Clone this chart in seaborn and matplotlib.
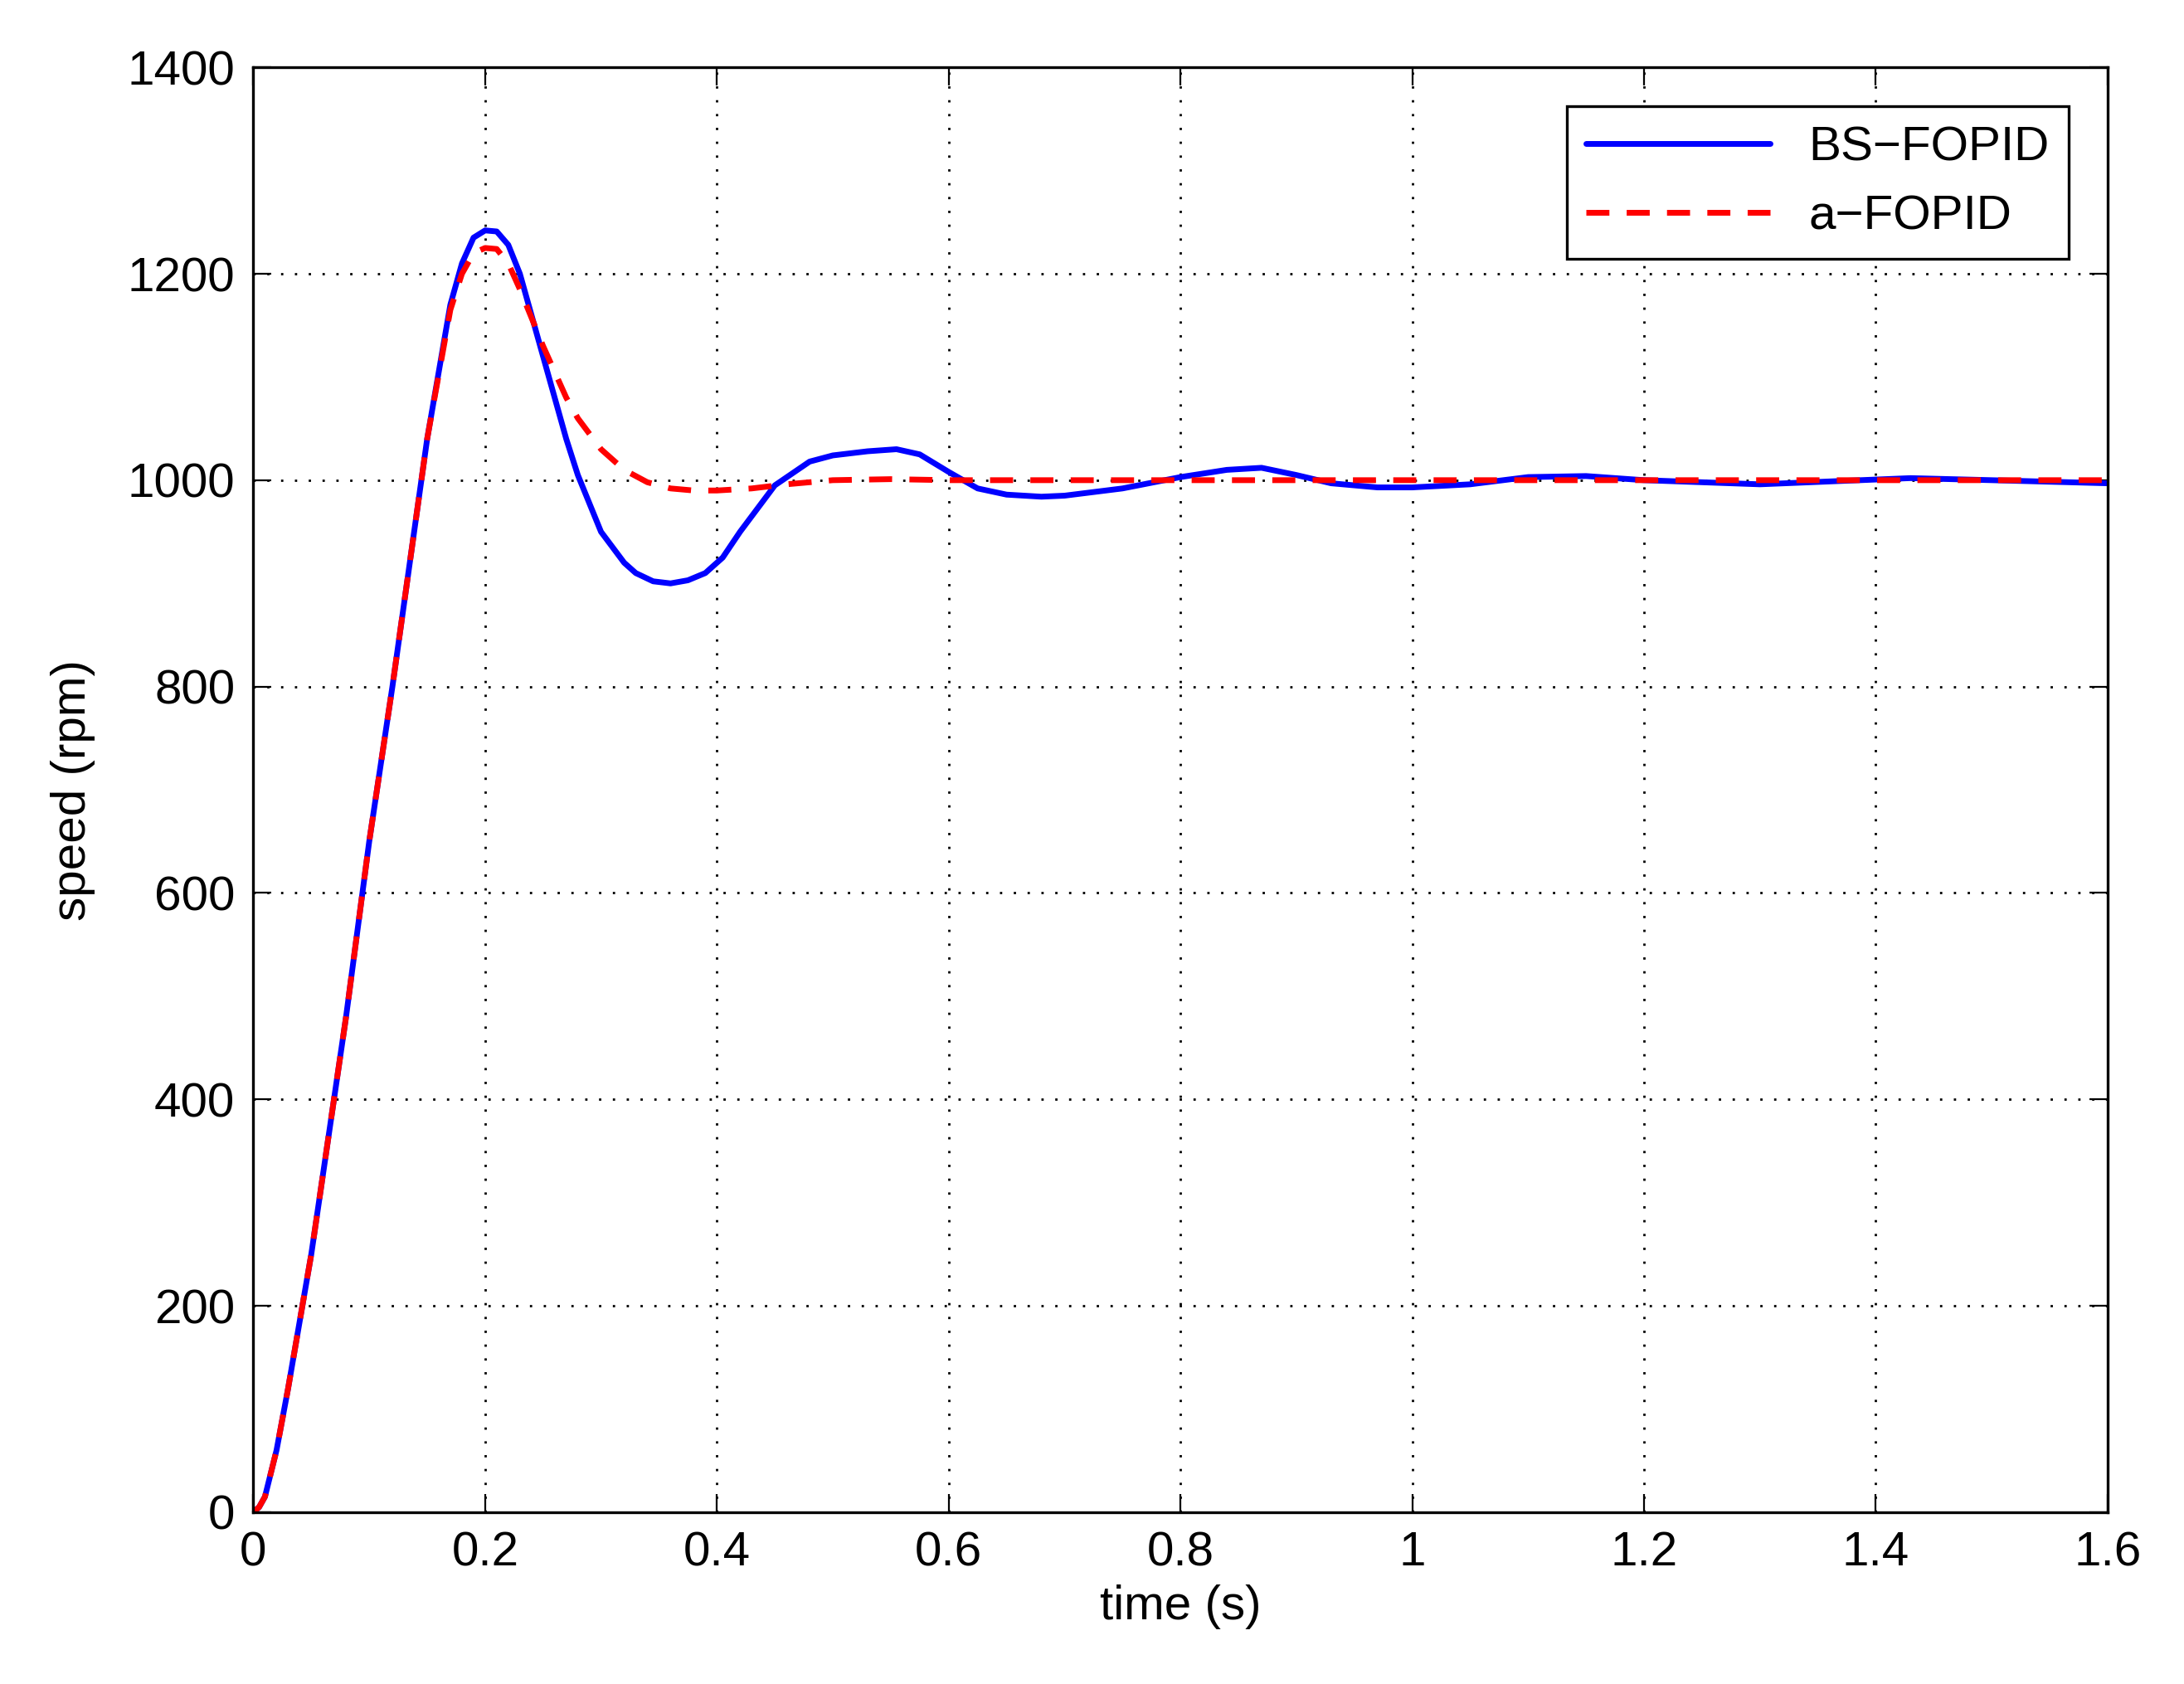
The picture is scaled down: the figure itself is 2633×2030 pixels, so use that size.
import matplotlib
matplotlib.use("Agg")
import matplotlib.pyplot as plt
import seaborn as sns

t_bs = [0,0.005,0.01,0.02,0.03,0.05,0.08,0.1,0.12,0.15,0.17,0.18,0.19,0.2,0.21,0.22,0.23,0.25,0.27,0.28,0.3,0.32,0.33,0.345,0.36,0.375,0.39,0.405,0.42,0.45,0.48,0.5,0.53,0.555,0.575,0.6,0.625,0.65,0.68,0.7,0.75,0.8,0.84,0.87,0.9,0.93,0.97,1.0,1.05,1.1,1.15,1.2,1.3,1.43,1.5,1.6]
y_bs = [0,5,15,60,120,250,480,650,800,1040,1170,1210,1235,1242,1241,1228,1200,1120,1040,1005,950,920,910,902,900,903,910,925,950,995,1018,1024,1028,1030,1025,1008,992,986,984,985,992,1003,1010,1012,1005,997,993,993,996,1003,1004,1000,996,1002,1000,997]
t_a = [0,0.005,0.01,0.02,0.03,0.05,0.08,0.1,0.12,0.15,0.17,0.18,0.19,0.2,0.21,0.22,0.23,0.25,0.27,0.28,0.3,0.32,0.34,0.36,0.38,0.4,0.43,0.46,0.5,0.55,0.6,0.8,1.0,1.3,1.6]
y_a = [0,5,15,60,120,250,480,650,800,1040,1165,1200,1220,1225,1224,1210,1185,1130,1080,1060,1030,1010,998,992,990,990,992,996,1000,1001,1000,1000,1000,1000,1000]

sns.set_style("ticks")
plt.rcParams['font.family'] = ['Liberation Sans', 'DejaVu Sans']
plt.rcParams['text.color'] = 'black'
plt.rcParams['axes.labelcolor'] = 'black'
plt.rcParams['xtick.color'] = 'black'
plt.rcParams['ytick.color'] = 'black'
fig = plt.figure(figsize=(13.165, 10.15), dpi=200)
ax = fig.add_axes([0.116, 0.102, 0.849, 0.858])
sns.lineplot(x=t_bs, y=y_bs, ax=ax, color='#0000ff', lw=2.5, label='BS\u2212FOPID')
sns.lineplot(x=t_a, y=y_a, ax=ax, color='#ff0000', lw=2.5, linestyle=(0, (4, 3)), label='a\u2212FOPID')
ax.set_xlim(0, 1.6); ax.set_ylim(0, 1400)
ax.set_xticks([0,0.2,0.4,0.6,0.8,1,1.2,1.4,1.6])
ax.set_xticklabels(['0','0.2','0.4','0.6','0.8','1','1.2','1.4','1.6'])
ax.set_yticks(range(0,1401,200))
ax.grid(True, color='black', linestyle=(0,(1,5)), lw=1.0)
ax.tick_params(direction='in', top=True, right=True, labelsize=21, length=8, pad=8)
for s in ax.spines.values():
    s.set_linewidth(1.2); s.set_color('black')
ax.set_xlabel('time (s)', fontsize=21, labelpad=4)
ax.set_ylabel('speed (rpm)', fontsize=21, labelpad=14)
leg = ax.legend(loc='upper right', fontsize=21, frameon=True, fancybox=False, edgecolor='black',
                handlelength=3.8, borderaxespad=0.8, labelspacing=0.5, framealpha=1)
leg.get_frame().set_linewidth(1.2)
fig.savefig('out.png', dpi=200, facecolor='white')
